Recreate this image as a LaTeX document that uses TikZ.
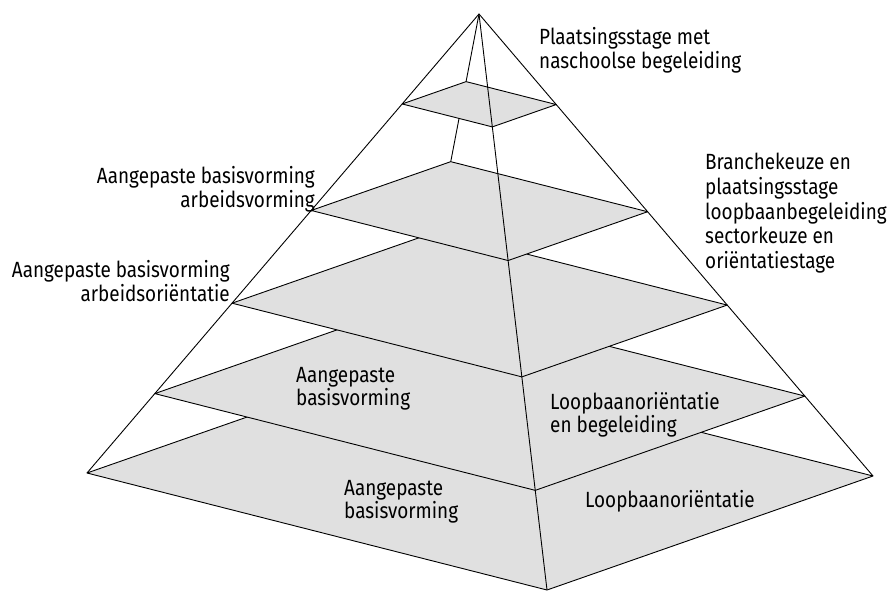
\documentclass[tikz,border=0pt]{standalone}
\usepackage{fontspec}
\setmainfont{Fira Sans}[FakeStretch=0.86]
\usepackage{tikz}
\usetikzlibrary{calc, positioning}
\tikzset{
    pyrEdge/.style={draw=black, line width=0.9pt},
    layer/.style={draw=black, line width=0.9pt, fill=black!12, line join=round},
    lbl/.style={inner sep=0pt, font=\fontsize{22}{24}\selectfont},
    inlbl/.style={lbl, font=\fontsize{22}{21.5}\selectfont}
}

\begin{document}
\begin{tikzpicture}[x=1pt, y=-1pt]
    \useasboundingbox (0,0) rectangle (888,591);

    % Corners of the pyramid
    \coordinate (A) at (479,14);
    \coordinate (L) at (87,473);
    \coordinate (F) at (547,590);
    \coordinate (R) at (873,476);
    \coordinate (B) at ($(L)+(R)-(F)$);

    % Hidden back edge
    \draw[pyrEdge] (A) -- (B);

    % Layers, from the base up
    \draw[layer] (L) -- (F) -- (R) -- (B) -- cycle;
    \draw[layer] ($(A)!0.827!(L)$) -- ($(A)!0.827!(F)$) -- ($(A)!0.827!(R)$) -- ($(A)!0.827!(B)$) -- cycle;
    \draw[layer] ($(A)!0.63!(L)$) -- ($(A)!0.63!(F)$) -- ($(A)!0.63!(R)$) -- ($(A)!0.63!(B)$) -- cycle;
    \draw[layer] ($(A)!0.428!(L)$) -- ($(A)!0.428!(F)$) -- ($(A)!0.428!(R)$) -- ($(A)!0.428!(B)$) -- cycle;
    \draw[layer] ($(A)!0.196!(L)$) -- ($(A)!0.196!(F)$) -- ($(A)!0.196!(R)$) -- ($(A)!0.196!(B)$) -- cycle;

    % Outer edges
    \draw[pyrEdge] (L) -- (A) -- (R);
    \draw[pyrEdge] (A) -- (F);

    % Labels
    \node[lbl, anchor=north west, align=left] (top) at (539,27) {Plaatsingsstage met\\naschoolse begeleiding};
    \node[lbl, anchor=north west, align=left, font=\fontsize{22}{24.7}\selectfont] (branche) at (705,153) {Branchekeuze en\\plaatsingsstage\\loopbaanbegeleiding\\sectorkeuze en\\oriëntatiestage};
    \node[lbl, anchor=north east, align=right] (abArbv) at (315,166) {Aangepaste basisvorming\\arbeidsvorming};
    \node[lbl, anchor=north east, align=right] (abArbo) at (230,260) {Aangepaste basisvorming\\arbeidsoriëntatie};
    \node[inlbl, anchor=north west, align=left] (abMid) at (296,367) {Aangepaste\\basisvorming};
    \node[inlbl, anchor=north west, align=left] (lobBeg) at (550,392) {Loopbaanoriëntatie\\en begeleiding};
    \node[inlbl, anchor=north west, align=left] (abBase) at (344,480) {Aangepaste\\basisvorming};
    \node[lbl, anchor=north west] (lobBase) at (585,490) {Loopbaanoriëntatie};
\end{tikzpicture}
\end{document}
